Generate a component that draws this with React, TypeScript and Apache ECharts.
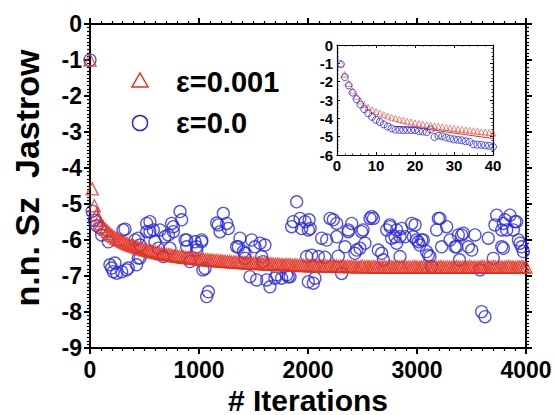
import React, { useEffect, useRef } from "react";
import * as echarts from "echarts";

// ---------- data ----------
// main plot: red triangles (epsilon = 0.001), one point every RED_STEP iterations
const RED_STEP = 20;
const redValues: number[] = [
  -1.0, -4.58, -5.05, -5.3, -5.45, -5.55, -5.63, -5.7, -5.76, -5.82,
  -5.87, -5.91, -5.95, -5.98, -6.01, -6.04, -6.07, -6.1, -6.12, -6.15,
  -6.17, -6.19, -6.21, -6.23, -6.25, -6.27, -6.28, -6.3, -6.31, -6.33,
  -6.34, -6.35, -6.37, -6.38, -6.39, -6.4, -6.41, -6.42, -6.43, -6.44,
  -6.45,
  -6.46, -6.47, -6.48, -6.48, -6.49, -6.5, -6.51, -6.51, -6.52, -6.53,
  -6.53, -6.54, -6.55, -6.55, -6.56, -6.56, -6.57, -6.57, -6.58, -6.58,
  -6.59, -6.59, -6.6, -6.6, -6.61, -6.61, -6.61, -6.62, -6.62, -6.63,
  -6.63, -6.63, -6.64, -6.64, -6.65, -6.64, -6.65, -6.66, -6.65, -6.66,
  -6.66, -6.67, -6.66, -6.67, -6.68, -6.67, -6.68, -6.68, -6.69, -6.68,
  -6.69, -6.69, -6.7, -6.69, -6.7, -6.7, -6.71, -6.7, -6.71, -6.71,
  -6.72, -6.71, -6.72, -6.72, -6.71, -6.72, -6.73, -6.72, -6.73, -6.72,
  -6.73, -6.73, -6.72, -6.74, -6.73, -6.73, -6.74, -6.73, -6.74, -6.74,
  -6.73, -6.74, -6.75, -6.74, -6.73, -6.75, -6.74, -6.74, -6.75, -6.74,
  -6.75, -6.74, -6.75, -6.75, -6.74, -6.76, -6.75, -6.74, -6.75, -6.76,
  -6.75, -6.75, -6.74, -6.76, -6.75, -6.75, -6.76, -6.75, -6.74, -6.75,
  -6.76, -6.75, -6.75, -6.76, -6.74, -6.75, -6.76, -6.75, -6.76, -6.75,
  -6.74, -6.75, -6.76, -6.75, -6.75, -6.76, -6.75, -6.74, -6.75, -6.76,
  -6.75, -6.75, -6.76, -6.74, -6.75, -6.75, -6.76, -6.75, -6.75, -6.74,
  -6.75, -6.76, -6.75, -6.75, -6.74, -6.75, -6.76, -6.75, -6.75, -6.76,
  -6.75, -6.74, -6.75, -6.75, -6.76, -6.75, -6.75, -6.74, -6.75, -6.75,
];

// main plot: blue circles (epsilon = 0.0), [iteration, value]
const bluePoints: [number, number][] = [
  [0, -1.0], [20, -5.2], [40, -5.45], [60, -5.6], [90, -5.67], [107, -5.86], [168, -6.05],
  [183, -6.69], [199, -6.78], [214, -6.88], [229, -6.64], [245, -6.92], [291, -6.88], [303, -5.72],
  [321, -5.7], [336, -6.83], [352, -6.78],
  [413, -6.0], [428, -6.69], [443, -6.5], [443, -5.95], [459, -6.14], [459, -6.5], [520, -5.77],
  [520, -5.54], [550, -5.49], [550, -5.77], [581, -5.72], [596, -6.05], [627, -6.23], [642, -5.72],
  [673, -6.46], [688, -5.91], [719, -5.86], [734, -6.23], [749, -5.54], [765, -5.77], [765, -5.63],
  [826, -5.21], [841, -5.44], [872, -6.0], [887, -6.19], [887, -6.0], [917, -6.6], [963, -6.05],
  [979, -6.28], [979, -6.19], [1025, -6.0], [1025, -6.05], [1036, -6.83], [1055, -6.79],
  [1070, -7.57], [1086, -7.44], [1162, -5.53], [1177, -5.58], [1193, -5.77], [1223, -5.26],
  [1254, -5.54], [1269, -5.68], [1345, -6.19], [1361, -6.19], [1376, -5.95], [1407, -6.32],
  [1422, -6.51], [1422, -6.37], [1468, -7.02], [1483, -6.0], [1514, -6.19], [1529, -7.11],
  [1560, -6.09], [1575, -6.46], [1587, -6.6], [1605, -6.14], [1621, -7.11], [1651, -7.3],
  [1697, -7.06], [1713, -6.97], [1758, -7.06], [1804, -6.97], [1819, -7.02], [1835, -7.02],
  [1850, -5.63], [1865, -5.49], [1896, -4.94], [1927, -5.4], [1942, -5.68], [1973, -5.49],
  [1988, -6.46], [2003, -7.16], [2003, -5.72], [2010, -5.44], [2020, -5.68], [2034, -6.42],
  [2049, -7.2], [2064, -7.06], [2095, -6.46], [2125, -5.95], [2156, -6.48], [2171, -6.0],
  [2202, -5.4], [2232, -5.44], [2263, -5.91], [2263, -5.54], [2278, -6.45], [2309, -6.93],
  [2340, -6.19], [2370, -5.77], [2370, -5.72], [2401, -5.54], [2431, -6.37], [2447, -6.28],
  [2477, -6.23], [2492, -5.77], [2505, -5.72], [2523, -6.09], [2569, -5.4], [2584, -5.35],
  [2600, -5.4], [2645, -6.28], [2676, -6.37], [2691, -6.55], [2722, -5.72], [2752, -5.63],
  [2752, -5.58], [2767, -5.95], [2798, -5.91], [2813, -6.09], [2813, -5.72], [2844, -6.46],
  [2844, -5.91], [2860, -5.68], [2890, -5.91], [2951, -5.54], [2966, -5.91], [2982, -5.58],
  [2996, -6.0], [3012, -6.05], [3025, -6.14], [3043, -6.0], [3058, -6.0], [3088, -6.32],
  [3104, -6.42], [3119, -6.46], [3134, -6.74], [3180, -5.72], [3196, -5.4], [3211, -5.4],
  [3226, -6.19], [3272, -5.63], [3303, -6.0], [3349, -6.19], [3364, -6.19], [3379, -5.86],
  [3390, -6.55], [3410, -5.86], [3425, -5.81], [3471, -6.19], [3502, -6.28], [3532, -5.86],
  [3578, -6.83], [3593, -7.99], [3624, -8.13], [3654, -5.95], [3700, -6.51], [3715, -5.58],
  [3731, -5.31], [3777, -5.72], [3777, -6.19], [3792, -6.23], [3792, -5.54], [3807, -5.44],
  [3823, -5.72], [3853, -5.31], [3884, -5.72], [3899, -5.49], [3914, -5.49], [3930, -6.0],
  [3945, -6.09], [3960, -6.19], [3976, -6.32],
];

// inset: iterations 1..40
const insetIterations: number[] = [
  1, 2, 3, 4, 5, 6, 7, 8, 9, 10, 11, 12, 13, 14, 15, 16, 17, 18, 19, 20,
  21, 22, 23, 24, 25, 26, 27, 28, 29, 30, 31, 32, 33, 34, 35, 36, 37, 38, 39, 40,
];
const insetRed: number[] = [
  -1.0, -1.6, -2.1, -2.5, -2.8, -3.05, -3.25, -3.4, -3.53, -3.63,
  -3.72, -3.8, -3.87, -3.94, -4.0, -4.06, -4.11, -4.16, -4.2, -4.25,
  -4.28, -4.32, -4.35, -4.38, -4.41, -4.44, -4.47, -4.5, -4.52, -4.55,
  -4.58, -4.6, -4.63, -4.65, -4.68, -4.7, -4.73, -4.75, -4.78, -4.8,
];
const insetBlue: number[] = [
  -1.05, -1.75, -2.2, -2.6, -2.95, -3.25, -3.5, -3.72, -3.92, -4.08,
  -4.2, -4.33, -4.45, -4.55, -4.62, -4.63, -4.64, -4.63, -4.64, -4.65,
  -4.7, -4.72, -4.75, -4.6, -5.02, -4.95, -4.98, -5.05, -5.1, -5.15,
  -5.17, -5.2, -5.25, -5.28, -5.42, -5.44, -5.45, -5.48, -5.5, -5.55,
];
const insetLineX: number[] = [15, 20, 25, 30, 35, 40];
const insetLineY: number[] = [-4.45, -4.5, -4.65, -4.8, -4.95, -5.1];

const legendLabels = ["ε=0.001", "ε=0.0"];
const xTitle = "# Iterations";
const yTitle = "n.n. Sz  Jastrow";

const RED = "#e3321f";
const BLUE = "#2424e6";
const FONT = "'Liberation Sans', Arial, sans-serif";

export default function App() {
  const ref = useRef<HTMLDivElement>(null);

  useEffect(() => {
    if (!ref.current) return;
    const chart = echarts.init(ref.current, null, { renderer: "svg" });

    const redData = redValues.map((v, i) => [i * RED_STEP, v]);
    const insetRedData = insetIterations.map((x, i) => [x, insetRed[i]]);
    const insetBlueData = insetIterations.map((x, i) => [x, insetBlue[i]]);
    const insetLineData = insetLineX.map((x, i) => [x, insetLineY[i]]);

    const plain = (v: number) => String(v);
    const mainLabel = { fontSize: 23, fontWeight: "bold", color: "#000", fontFamily: FONT, formatter: plain };
    const insetLabel = { fontSize: 15, fontWeight: "bold", color: "#000", fontFamily: FONT, formatter: plain };

    const mainAxisCommon = {
      axisLine: { show: true, onZero: false, lineStyle: { color: "#000", width: 2 } },
      axisTick: { show: true, inside: false, length: 6, lineStyle: { color: "#000", width: 2 } },
      minorTick: { show: true, splitNumber: 10, length: 3, lineStyle: { color: "#000", width: 1.2 } },
      splitLine: { show: false },
      minorSplitLine: { show: false },
    };
    const insetAxisCommon = {
      axisLine: { show: true, onZero: false, lineStyle: { color: "#000", width: 1.2 } },
      axisTick: { show: true, inside: true, length: 3, lineStyle: { color: "#000", width: 1 } },
      minorTick: { show: true, splitNumber: 5, length: 1.5, lineStyle: { color: "#000", width: 0.8 } },
      splitLine: { show: false },
      minorSplitLine: { show: false },
    };

    chart.setOption({
      animation: false,
      backgroundColor: "#fff",
      grid: [
        { left: 90, right: 30, top: 24, bottom: 67, containLabel: false },
        { left: 337, top: 45, width: 156, height: 110, show: true, backgroundColor: "#fff", borderWidth: 0, z: 5 },
      ],
      xAxis: [
        {
          type: "value", gridIndex: 0, min: 0, max: 4000, interval: 1000, position: "bottom",
          ...mainAxisCommon,
          axisLabel: { ...mainLabel, margin: 10 },
        },
        {
          type: "value", gridIndex: 0, min: 0, max: 4000, interval: 1000, position: "top",
          ...mainAxisCommon,
          axisLabel: { show: false },
        },
        {
          type: "value", gridIndex: 1, min: 0, max: 40, interval: 10, position: "bottom", z: 6,
          ...insetAxisCommon,
          axisLabel: { ...insetLabel, margin: 3 },
        },
        {
          type: "value", gridIndex: 1, min: 0, max: 40, interval: 10, position: "top", z: 6,
          ...insetAxisCommon,
          axisLabel: { show: false },
        },
      ],
      yAxis: [
        {
          type: "value", gridIndex: 0, min: -9, max: 0, interval: 1, position: "left",
          ...mainAxisCommon,
          axisLabel: { ...mainLabel, margin: 8 },
        },
        {
          type: "value", gridIndex: 0, min: -9, max: 0, interval: 1, position: "right",
          ...mainAxisCommon,
          axisLabel: { show: false },
        },
        {
          type: "value", gridIndex: 1, min: -6, max: 0, interval: 1, position: "left", z: 6,
          ...insetAxisCommon,
          axisLabel: { ...insetLabel, margin: 4 },
        },
        {
          type: "value", gridIndex: 1, min: -6, max: 0, interval: 1, position: "right", z: 6,
          ...insetAxisCommon,
          axisLabel: { show: false },
        },
      ],
      series: [
        {
          type: "scatter", xAxisIndex: 0, yAxisIndex: 0, data: bluePoints,
          symbol: "circle", symbolSize: 12,
          itemStyle: { color: "rgba(255,255,255,0)", borderColor: BLUE, borderWidth: 1.3 },
          z: 2,
        },
        {
          type: "scatter", xAxisIndex: 0, yAxisIndex: 0, data: redData,
          symbol: "triangle", symbolSize: 12,
          itemStyle: { color: "rgba(255,255,255,0)", borderColor: RED, borderWidth: 1.4 },
          z: 3,
        },
        {
          type: "line", xAxisIndex: 2, yAxisIndex: 2, data: insetLineData, showSymbol: false,
          lineStyle: { color: RED, width: 1.2 }, z: 7,
        },
        {
          type: "scatter", xAxisIndex: 2, yAxisIndex: 2, data: insetRedData,
          symbol: "triangle", symbolSize: 6,
          itemStyle: { color: "rgba(255,255,255,0)", borderColor: RED, borderWidth: 0.8, opacity: 0.7 },
          z: 7,
        },
        {
          type: "scatter", xAxisIndex: 2, yAxisIndex: 2, data: insetBlueData,
          symbol: "circle", symbolSize: 7,
          itemStyle: { color: "rgba(255,255,255,0)", borderColor: BLUE, borderWidth: 1 },
          z: 8,
        },
      ],
      graphic: [
        {
          type: "polygon", z: 10,
          shape: { points: [[132, 87], [148, 87], [140, 73]] },
          style: { fill: "none", stroke: RED, lineWidth: 1.5 },
        },
        {
          type: "circle", z: 10,
          shape: { cx: 140, cy: 123, r: 7.5 },
          style: { fill: "none", stroke: BLUE, lineWidth: 1.5 },
        },
        {
          type: "text", z: 10, x: 176, y: 82,
          style: { text: legendLabels[0], font: `bold 29px ${FONT}`, fill: "#000", textAlign: "left", textVerticalAlign: "middle" },
        },
        {
          type: "text", z: 10, x: 176, y: 123,
          style: { text: legendLabels[1], font: `bold 29px ${FONT}`, fill: "#000", textAlign: "left", textVerticalAlign: "middle" },
        },
        {
          type: "text", z: 10, x: 308, y: 400,
          style: { text: xTitle, font: `bold 30px ${FONT}`, fill: "#000", textAlign: "center", textVerticalAlign: "middle" },
        },
        {
          type: "text", z: 10, x: 27, y: 178, rotation: Math.PI / 2,
          style: { text: yTitle, font: `bold 34px ${FONT}`, fill: "#000", textAlign: "center", textVerticalAlign: "middle" },
        },
      ],
    });

    return () => chart.dispose();
  }, []);

  return <div ref={ref} style={{ width: 556, height: 415, position: "absolute", left: 0, top: 0 }} />;
}
